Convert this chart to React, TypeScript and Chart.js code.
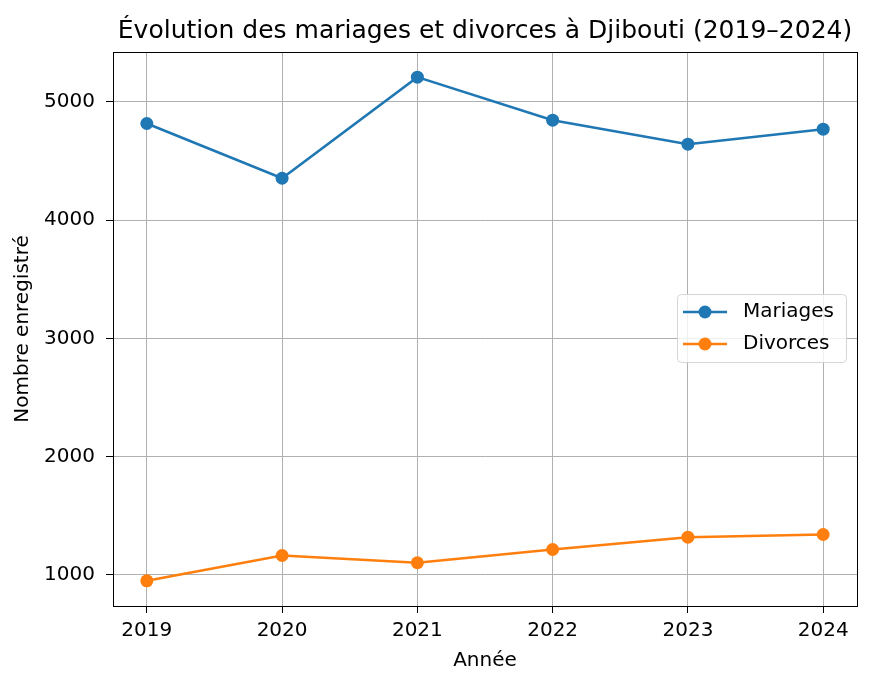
import React, { useEffect, useRef } from "react";
import { Chart, registerables } from "chart.js";

Chart.register(...registerables);

const years = [2019, 2020, 2021, 2022, 2023, 2024];
const mariages = [4817, 4354, 5209, 4845, 4642, 4769];
const divorces = [949, 1163, 1102, 1214, 1318, 1341];
const yTicks = [1000, 2000, 3000, 4000, 5000];
const seriesNames = ["Mariages", "Divorces"];
const seriesColors = ["#1f77b4", "#ff7f0e"];
const titleText = "Évolution des mariages et divorces à Djibouti (2019–2024)";
const xTitle = "Année";
const yTitle = "Nombre enregistré";

const FONT = "'DejaVu Sans', sans-serif";

const framePlugin = {
  id: "frame",
  afterDraw(chart: any) {
    const { ctx, chartArea } = chart;
    ctx.save();
    ctx.strokeStyle = "#000";
    ctx.lineWidth = 1;
    ctx.strokeRect(
      Math.round(chartArea.left) + 0.5,
      Math.round(chartArea.top) + 0.5,
      Math.round(chartArea.right - chartArea.left),
      Math.round(chartArea.bottom - chartArea.top)
    );
    // title centred over the plot area
    ctx.fillStyle = "#000";
    ctx.font = `25px ${FONT}`;
    ctx.textAlign = "center";
    ctx.textBaseline = "alphabetic";
    ctx.fillText(titleText, (chartArea.left + chartArea.right) / 2, 38);
    ctx.restore();
  },
};

const legendPlugin = {
  id: "mplLegend",
  afterDraw(chart: any) {
    const { ctx } = chart;
    const x0 = 677.5, y0 = 294.5, w = 169, h = 68, r = 4;
    ctx.save();
    ctx.beginPath();
    ctx.moveTo(x0 + r, y0);
    ctx.arcTo(x0 + w, y0, x0 + w, y0 + h, r);
    ctx.arcTo(x0 + w, y0 + h, x0, y0 + h, r);
    ctx.arcTo(x0, y0 + h, x0, y0, r);
    ctx.arcTo(x0, y0, x0 + w, y0, r);
    ctx.closePath();
    ctx.fillStyle = "rgba(255,255,255,0.8)";
    ctx.fill();
    ctx.strokeStyle = "rgba(204,204,204,0.8)";
    ctx.lineWidth = 1;
    ctx.stroke();
    chart.data.datasets.forEach((ds: any, i: number) => {
      const cy = 312 + i * 32;
      ctx.strokeStyle = ds.borderColor;
      ctx.lineWidth = 2.5;
      ctx.beginPath();
      ctx.moveTo(683, cy);
      ctx.lineTo(727, cy);
      ctx.stroke();
      ctx.fillStyle = ds.backgroundColor;
      ctx.beginPath();
      ctx.arc(705, cy, 6.5, 0, Math.PI * 2);
      ctx.fill();
      ctx.fillStyle = "#000";
      ctx.font = `20px ${FONT}`;
      ctx.textAlign = "left";
      ctx.textBaseline = "middle";
      ctx.fillText(ds.label, 743, cy);
    });
    ctx.restore();
  },
};

export default function App() {
  const ref = useRef<HTMLCanvasElement | null>(null);
  useEffect(() => {
    document.body.style.margin = "0";
    const seriesData = [mariages, divorces];
    const chart = new Chart(ref.current!, {
      type: "line",
      data: {
        datasets: seriesData.map((vals, i) => ({
          label: seriesNames[i],
          data: years.map((y, j) => ({ x: y, y: vals[j] })),
          borderColor: seriesColors[i],
          backgroundColor: seriesColors[i],
          borderWidth: 2.5,
          pointRadius: 6.5,
          pointBorderWidth: 0,
          pointBackgroundColor: seriesColors[i],
          tension: 0,
        })),
      },
      options: {
        responsive: false,
        animation: false,
        devicePixelRatio: 1,
        layout: { padding: { left: 0, right: 13, top: 52, bottom: 0 } },
        plugins: {
          legend: { display: false },
          tooltip: { enabled: false },
          title: { display: false },
        },
        scales: {
          x: {
            type: "linear",
            min: 2018.75,
            max: 2024.25,
            afterFit(scale: any) {
              scale.height = 79;
            },
            afterBuildTicks(scale: any) {
              scale.ticks = years.map((v) => ({ value: v }));
            },
            ticks: {
              color: "#000",
              font: { family: FONT, size: 20 },
              padding: 6,
              maxRotation: 0,
              autoSkip: false,
              callback: (v: any) => String(v),
            },
            grid: { color: "#b0b0b0", lineWidth: 1, tickLength: 7, tickColor: "#000" },
            border: { color: "#000", width: 1 },
            title: {
              display: true,
              text: xTitle,
              color: "#000",
              font: { family: FONT, size: 20, lineHeight: 1.2 },
              padding: { top: 0, bottom: 12 },
            },
          },
          y: {
            type: "linear",
            min: 736,
            max: 5422,
            afterFit(scale: any) {
              scale.width = 113;
            },
            afterBuildTicks(scale: any) {
              scale.ticks = yTicks.map((v) => ({ value: v }));
            },
            ticks: {
              color: "#000",
              font: { family: FONT, size: 20 },
              padding: 11,
              callback: (v: any) => String(v),
            },
            grid: { color: "#b0b0b0", lineWidth: 1, tickLength: 7, tickColor: "#000" },
            border: { color: "#000", width: 1 },
            title: {
              display: true,
              text: yTitle,
              color: "#000",
              font: { family: FONT, size: 20, lineHeight: 1.2 },
              padding: { top: 11, bottom: 0 },
            },
          },
        },
      },
      plugins: [framePlugin, legendPlugin],
    } as any);
    return () => chart.destroy();
  }, []);
  return (
    <div style={{ width: 870, height: 685, background: "#fff" }}>
      <canvas ref={ref} width={870} height={685} style={{ display: "block" }} />
    </div>
  );
}
